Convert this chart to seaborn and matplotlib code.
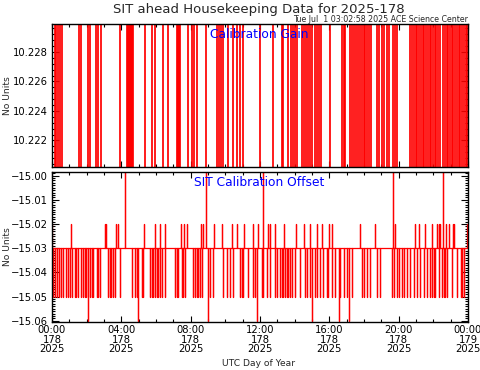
import numpy as np
import pandas as pd
import matplotlib
matplotlib.use("Agg")
import matplotlib.pyplot as plt
import seaborn as sns
from matplotlib.ticker import MultipleLocator, FixedLocator

# ---------------- data (hours of day 2025-178, UTC) ----------------
gain_toggle_hours = [
    0.16, 0.24, 0.33, 0.45, 0.56, 1.54, 1.66, 2.06, 2.18, 2.53, 2.64, 2.82,
    3.91, 4.32, 4.38, 4.43, 4.49, 4.55, 4.61, 4.67, 5.36, 5.76, 5.94, 6.40,
    6.69, 7.21, 7.27, 7.33, 7.39, 7.84, 8.08, 8.19, 8.36, 8.88, 9.52, 9.64,
    9.75, 9.87, 10.16, 10.45, 10.68, 10.85, 11.02, 12.01, 12.76, 13.28, 13.34,
    13.62, 13.80, 13.91, 14.03, 14.14, 14.43, 14.55, 14.66, 14.78, 14.89,
    15.01, 15.18, 15.30, 15.42, 15.53, 16.05, 16.75, 16.86, 16.92, 17.21,
    17.32, 17.44, 17.56, 17.67, 17.79, 17.90, 18.02, 18.08, 18.19, 18.31,
    18.42, 18.77, 18.88, 19.06, 19.17, 19.35, 19.46, 19.69, 19.81, 19.92,
    20.68, 20.78, 20.88, 20.98, 21.08, 21.18, 21.28, 21.38, 21.48, 21.58,
    21.68, 21.78, 21.88, 21.98, 22.08, 22.18, 22.28, 22.38, 22.56, 22.66,
    22.76, 22.86, 22.96, 23.06, 23.16, 23.26, 23.36, 23.46, 23.56, 23.66,
    23.76, 23.86, 23.96,
]
gain_low = 10.220
gain_high = 10.230

offset_base = -15.03
offset_edge_value = -15.02
offset_end_hour = 23.95

offset_down_hours = [  # spikes to -15.05
    0.07, 0.16, 0.27, 0.39, 0.50, 0.62, 0.79, 0.92, 1.06, 1.18, 1.31, 1.41,
    1.50, 1.70, 1.79, 1.89, 1.99, 2.18, 2.28, 2.37, 2.57, 2.66, 2.76, 3.24,
    3.34, 3.43, 3.53, 3.62, 3.91, 4.59, 4.78, 4.88, 5.17, 5.26, 5.65, 5.75,
    5.84, 5.94, 6.03, 6.13, 6.23, 6.32, 6.51, 7.09, 7.19, 7.28, 7.48, 7.57,
    7.67, 8.15, 8.25, 8.35, 8.44, 8.54, 8.64, 9.12, 9.31, 9.88, 10.08, 10.27,
    10.43, 10.85, 10.95, 11.04, 11.33, 11.62, 11.72, 12.10, 12.20, 12.39,
    12.58, 12.87, 12.97, 13.16, 13.26, 13.35, 13.45, 13.55, 13.64, 13.74,
    13.84, 14.03, 14.32, 14.61, 14.71, 14.90, 15.19, 15.28, 15.47, 15.66,
    15.86, 15.95, 16.15, 16.34, 16.63, 16.82, 17.02, 17.31, 17.88, 17.98,
    18.17, 18.36, 18.75, 18.94, 19.62, 19.71, 19.91, 20.00, 20.20, 20.29,
    20.49, 20.68, 20.87, 21.06, 21.25, 21.45, 21.64, 21.83, 21.93, 22.02,
    22.12, 22.31, 22.51, 22.60, 22.70, 22.80, 23.09, 23.38, 23.57, 23.66,
    23.76,
]
offset_down_value = -15.05

offset_deep_hours = [2.08, 4.99, 8.98, 11.81, 14.99, 16.53, 17.11]
offset_deep_value = -15.06

offset_up_hours = [  # spikes to -15.02
    1.12, 3.05, 3.14, 3.72, 3.82, 5.30, 5.96, 6.25, 6.53, 7.46, 7.64, 7.77,
    8.60, 8.73, 9.34, 9.79, 10.37, 10.66, 11.06, 11.60, 11.91, 12.49, 12.60,
    12.85, 13.37, 14.05, 14.51, 14.88, 15.30, 15.57, 15.97, 16.17, 17.79,
    18.65, 19.81, 20.97, 21.16, 21.54, 21.95, 22.22, 22.33, 22.41, 22.72,
    22.89, 23.11, 23.18,
]
offset_up_value = -15.02

offset_top_hours = [4.21, 8.88, 12.18, 19.68, 22.53]
offset_top_value = -14.99

x_tick_hours = [0, 4, 8, 12, 16, 20, 24]
x_tick_labels = ["00:00\n178\n2025", "04:00\n178\n2025", "08:00\n178\n2025",
                 "12:00\n178\n2025", "16:00\n178\n2025", "20:00\n178\n2025",
                 "00:00\n179\n2025"]
gain_ticks = [10.222, 10.224, 10.226, 10.228]
offset_ticks = [-15.00, -15.01, -15.02, -15.03, -15.04, -15.05, -15.06]

title = "SIT ahead Housekeeping Data for 2025-178"
stamp = "Tue Jul  1 03:02:58 2025 ACE Science Center"

# ---------------- build series ----------------
gt, gv = [0.0], [gain_low]
cur = gain_low
for h in gain_toggle_hours:
    nxt = gain_high if cur == gain_low else gain_low
    gt += [h, h]
    gv += [cur, nxt]
    cur = nxt
gt.append(24.0)
gv.append(cur)
gain_df = pd.DataFrame({"hour": gt, "value": gv})

events = ([(h, offset_down_value) for h in offset_down_hours] +
          [(h, offset_deep_value) for h in offset_deep_hours] +
          [(h, offset_up_value) for h in offset_up_hours] +
          [(h, offset_top_value) for h in offset_top_hours])
events.sort()
ot, ov = [0.0, 0.0], [offset_edge_value, offset_base]
for h, v in events:
    ot += [h, h, h]
    ov += [offset_base, v, offset_base]
ot += [offset_end_hour, offset_end_hour, 24.0]
ov += [offset_base, offset_edge_value, offset_edge_value]
offset_df = pd.DataFrame({"hour": ot, "value": ov})

# ---------------- style ----------------
sns.set_style("ticks")
plt.rcParams["font.family"] = ["DejaVu Sans"]
plt.rcParams["axes.linewidth"] = 1.0

W, H = 481, 370
fig = plt.figure(figsize=(W / 100, H / 100), dpi=100)
fig.patch.set_facecolor("white")

def fx(px):
    return px / W

def fy(py):
    return 1 - py / H

ax1 = fig.add_axes([fx(52), fy(167), fx(416), 143 / H])
ax2 = fig.add_axes([fx(52), fy(322), fx(416), 150 / H])

sns.lineplot(data=gain_df, x="hour", y="value", ax=ax1, sort=False,
             estimator=None, color="#ff0000", linewidth=1.25)
sns.lineplot(data=offset_df, x="hour", y="value", ax=ax2, sort=False,
             estimator=None, color="#ff0000", linewidth=0.9)

for ax in (ax1, ax2):
    ax.set_xlim(0, 24)
    ax.set_xlabel("")
    ax.set_ylabel("")
    ax.set_facecolor("white")
    for s in ax.spines.values():
        s.set_color("black")
        s.set_visible(True)
        s.set_zorder(5)
    ax.xaxis.set_major_locator(FixedLocator(x_tick_hours))
    ax.xaxis.set_minor_locator(MultipleLocator(1))
    ax.tick_params(which="both", direction="in", top=True, right=True,
                   colors="black", labelsize=7.2)
    ax.tick_params(axis="x", which="major", length=4, width=0.8, pad=2.5)
    ax.tick_params(axis="x", which="minor", length=2, width=0.8)
    ax.tick_params(axis="y", which="major", length=5, width=0.8, pad=3)
    ax.tick_params(axis="y", which="minor", length=2.5, width=0.8)

ax1.set_ylim(10.2202, 10.2299)
ax1.yaxis.set_major_locator(FixedLocator(gain_ticks))
ax1.yaxis.set_minor_locator(MultipleLocator(0.0004))
ax1.set_yticklabels([f"{v:.3f}" for v in gain_ticks])
ax1.tick_params(axis="x", labelbottom=False)

ax2.set_ylim(-15.0605, -14.9985)
ax2.yaxis.set_major_locator(FixedLocator(offset_ticks))
ax2.yaxis.set_minor_locator(MultipleLocator(0.001))
ax2.set_yticklabels([f"{v:.2f}".replace("-", "\u2212") for v in offset_ticks])
ax2.set_xticklabels(x_tick_labels, linespacing=0.9)

fig.text(fx(259), fy(10), title, ha="center", va="center", fontsize=9.5)
fig.text(fx(468), fy(19.5), stamp, ha="right", va="center", fontsize=5.7)
fig.text(fx(259), fy(34), "Calibration Gain", ha="center", va="center",
         fontsize=8.8, color="#0000ff")
fig.text(fx(259), fy(182), "SIT Calibration Offset", ha="center", va="center",
         fontsize=8.8, color="#0000ff")
fig.text(fx(259), fy(363), "UTC Day of Year", ha="center", va="center",
         fontsize=6.6)
fig.text(fx(7.5), fy(95.5), "No Units", ha="center", va="center",
         rotation=90, fontsize=6.6)
fig.text(fx(7.5), fy(247), "No Units", ha="center", va="center",
         rotation=90, fontsize=6.6)

fig.savefig("out.png", dpi=100, facecolor="white")
